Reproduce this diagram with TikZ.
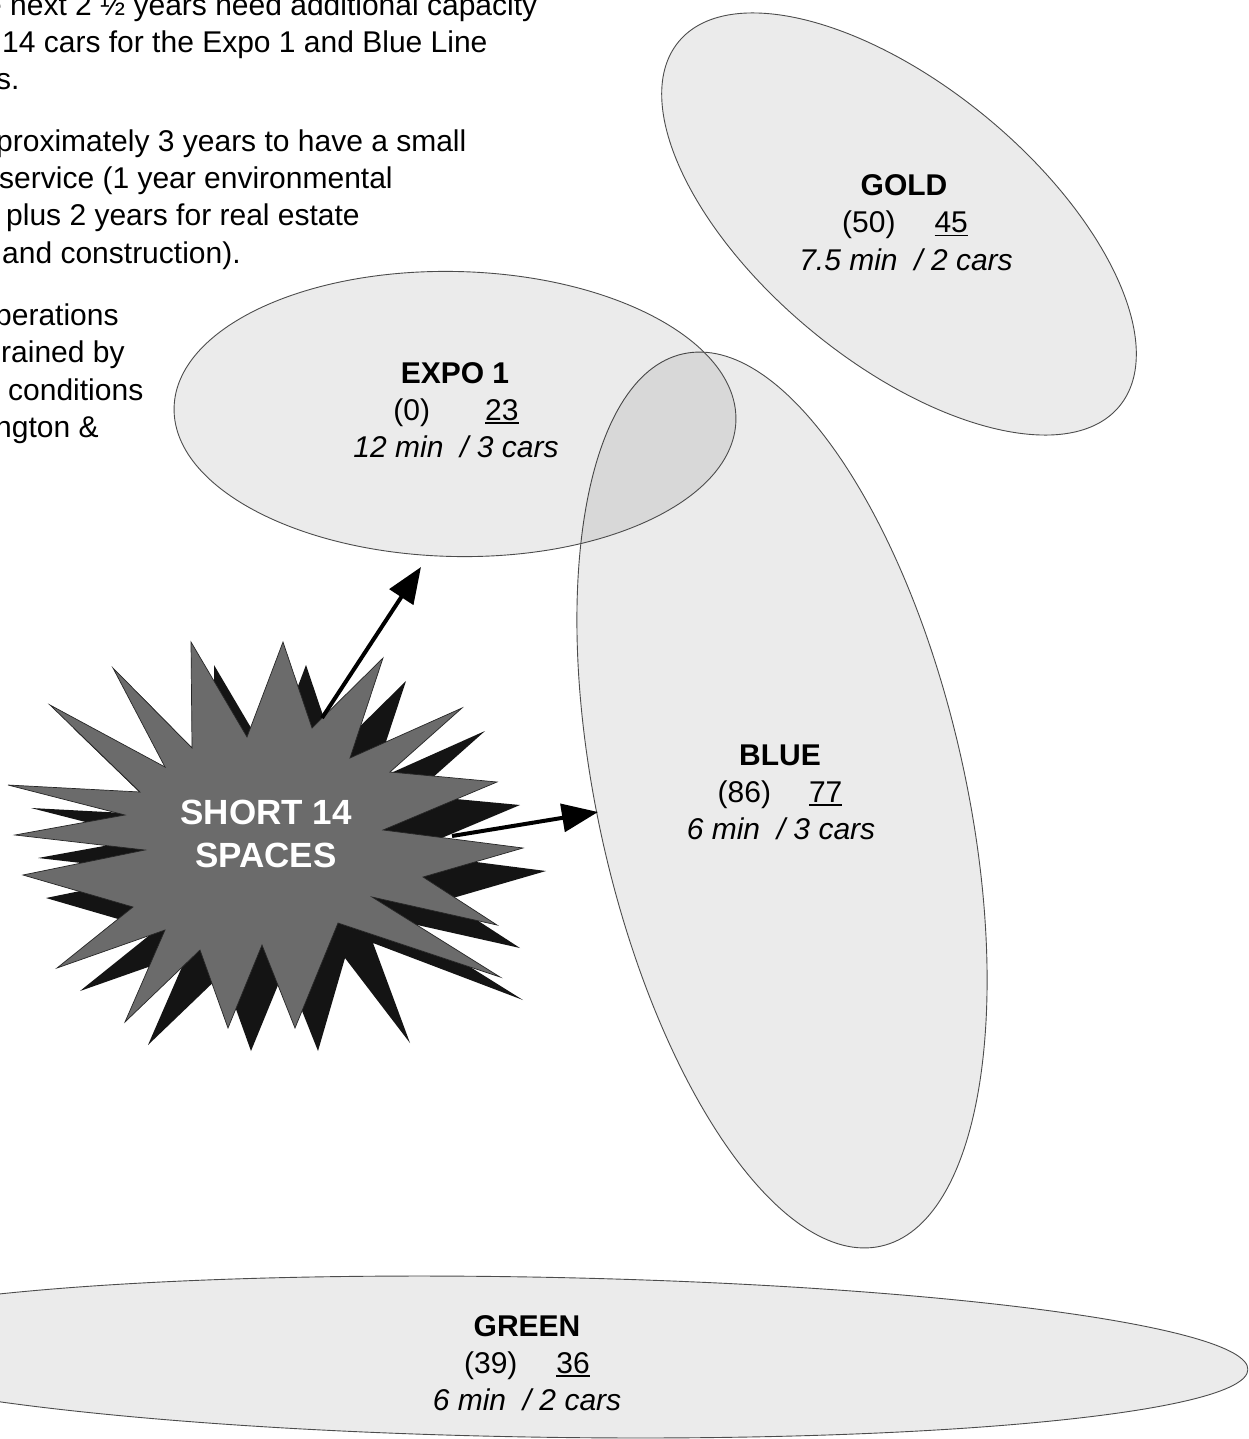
\documentclass[tikz,border=0pt]{standalone}
\usepackage{fontspec}
\setmainfont{Liberation Sans}
\usetikzlibrary{arrows.meta,shapes.geometric}
\newcommand\myul[1]{\setbox0\hbox{#1}\rlap{\rule[-3.5pt]{\wd0}{1.8pt}}\box0}
\begin{document}
\begin{tikzpicture}[x=1pt,y=-1pt,
  zone/.style={ellipse, draw=black!70, line width=0.9pt, fill=black, fill opacity=0.08, inner sep=0pt},
  lbl/.style={font=\fontsize{30}{37}\selectfont, inner sep=0pt, anchor=base},
  ttl/.style={lbl, font=\fontsize{30}{37}\selectfont\bfseries},
  its/.style={lbl, font=\fontsize{30}{37}\selectfont\itshape},
  note/.style={font=\fontsize{30}{37}\selectfont, inner sep=0pt, anchor=base west},
  arr/.style={line width=4pt, -{Triangle[length=36pt,width=28pt]}},
  startext/.style={font=\fontsize{35}{43}\selectfont\bfseries, text=white, align=center, inner sep=0pt}]
\useasboundingbox (0,0) rectangle (1248,1439);
\clip (0,0) rectangle (1248,1439);
\fill[white] (0,0) rectangle (1248,1439);

% notes (left, clipped)
\node[note] (n1) at (-15,16) {e next 2 ½ years need additional capacity};
\node[note] (n2) at (2,53) {14 cars for the Expo 1 and Blue Line};
\node[note] (n3) at (-4,90) {s.};
\node[note] (n4) at (-4,152) {proximately 3 years to have a small};
\node[note] (n5) at (-1,189) {service (1 year environmental};
\node[note] (n6) at (6,226) {plus 2 years for real estate};
\node[note] (n7) at (2,263) {and construction).};
\node[note] (n8) at (-5,325) {perations};
\node[note] (n9) at (1,362) {rained by};
\node[note] (n10) at (8,400) {conditions};
\node[note] (n11) at (-5,437) {ngton \&};

% ellipses
\node[zone, minimum width=572pt, minimum height=276pt, rotate=-39.6] (gold) at (899,224) {};
\node[zone, minimum width=914pt, minimum height=368pt, rotate=-77.5] (blue) at (782,800) {};
\node[zone, minimum width=562pt, minimum height=285pt, rotate=-1.3] (expo) at (455,414) {};
\node[zone, minimum width=1436pt, minimum height=160pt, rotate=-1] (green) at (530,1357) {};

% labels
\node[ttl] (goldA) at (904,196) {GOLD};
\node[lbl] (goldB) at (905,233) {(50)\hspace{39pt}\myul{45}};
\node[its] (goldC) at (906,270) {7.5 min~ / 2 cars};

\node[ttl] (expoA) at (455,383) {EXPO 1};
\node[lbl] (expoB) at (456,420) {(0)\hspace{55pt}\myul{23}};
\node[its] (expoC) at (456,457) {12 min~ / 3 cars};

\node[ttl] (blueA) at (780,765) {BLUE};
\node[lbl] (blueB) at (780,802) {(86)\hspace{38pt}\myul{77}};
\node[its] (blueC) at (781,839) {6 min~ / 3 cars};

\node[ttl] (greenA) at (527,1336) {GREEN};
\node[lbl] (greenB) at (527,1373) {(39)\hspace{39pt}\myul{36}};
\node[its] (greenC) at (527,1410) {6 min~ / 2 cars};

% starburst: dark shadow star then grey star
\fill[black!92, shift={(23,23)}]
 (191,642) -- (247,737) -- (283,642) -- (312,728) -- (383,658) -- (350,758) --
 (462,708) -- (390,772) -- (497,782) -- (383,830) -- (523,848) -- (423,877) --
 (497,925) -- (372,897) -- (500,977) -- (350,920) -- (387,1020) -- (322,935) --
 (295,1028) -- (262,945) -- (228,1028) -- (200,950) -- (125,1022) -- (165,930) --
 (57,968) -- (133,907) -- (23,875) -- (145,850) -- (15,835) -- (125,815) --
 (8,785) -- (140,792) -- (50,705) -- (165,767) -- (113,668) -- (192,748) -- cycle;
\filldraw[fill=black!58, draw=black!85, line width=0.7pt]
 (191,642) -- (247,737) -- (283,642) -- (312,728) -- (383,658) -- (350,758) --
 (462,708) -- (390,772) -- (497,782) -- (383,830) -- (523,848) -- (423,877) --
 (497,925) -- (372,897) -- (500,977) -- (338,923) --
 (295,1028) -- (262,945) -- (228,1028) -- (200,950) -- (125,1022) -- (165,930) --
 (57,968) -- (133,907) -- (23,875) -- (145,850) -- (15,835) -- (125,815) --
 (8,785) -- (140,792) -- (50,705) -- (165,767) -- (113,668) -- (192,748) -- cycle;
\node[startext] (short) at (266,834) {SHORT 14\\SPACES};

% arrows
\coordinate (a1s) at (322,718);
\coordinate (a1e) at (421,567);
\coordinate (a2s) at (452,836);
\coordinate (a2e) at (598,812);
\draw[arr] (a1s) -- (a1e);
\draw[arr] (a2s) -- (a2e);
\end{tikzpicture}
\end{document}
